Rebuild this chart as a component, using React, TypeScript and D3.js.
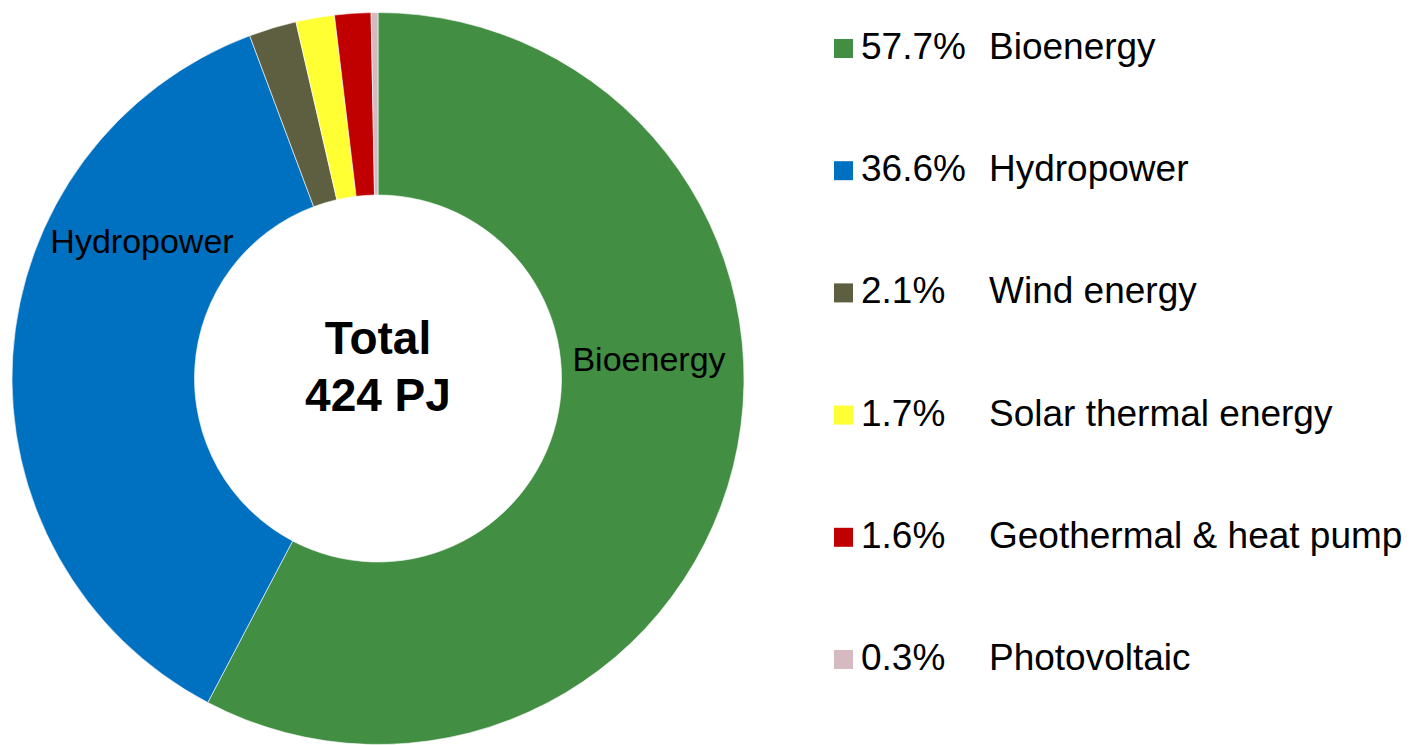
import React from "react";
import * as d3 from "d3";

const categories = ["Bioenergy", "Hydropower", "Wind energy", "Solar thermal energy", "Geothermal & heat pump", "Photovoltaic"];
const shares = [57.7, 36.6, 2.1, 1.7, 1.6, 0.3];
const shareLabels = ["57.7%", "36.6%", "2.1%", "1.7%", "1.6%", "0.3%"];
const colors = ["#428E43", "#0070C0", "#5E5E40", "#FFFF33", "#C00000", "#D5BAC1"];
const sliceLabels = ["Bioenergy", "Hydropower", "", "", "", ""];
const centerLines = ["Total", "424 PJ"];

const W = 1415;
const H = 745;
const cx = 378;
const cy = 378.5;
const outerR = 366;
const innerR = 183.5;
const font = "'Liberation Sans', Arial, sans-serif";

// label positions (anchor), in pixels of the chart
const labelPos: Record<string, [number, number]> = {
  Bioenergy: [649, 371],
  Hydropower: [142, 253],
};

export default function App() {
  const data = categories.map((c, i) => ({ name: c, value: shares[i], color: colors[i], label: sliceLabels[i], pct: shareLabels[i] }));
  const pie = d3.pie<any>().value((d) => d.value).sort(null);
  const arcs = pie(data);
  const arc = d3.arc<any>().innerRadius(innerR).outerRadius(outerR);
  const legendY = d3.scaleLinear().domain([0, categories.length - 1]).range([59, 670]);

  return (
    <svg width={W} height={H} style={{ position: "absolute", left: 0, top: 0, background: "#fff" }} fontFamily={font}>
      <g transform={`translate(${cx},${cy})`}>
        {arcs.map((a, i) => (
          <path key={i} d={arc(a) as string} fill={a.data.color} stroke="#ffffff" strokeWidth={0.6} />
        ))}
      </g>
      {data.filter((d) => d.label).map((d) => (
        <text key={d.name} x={labelPos[d.label][0]} y={labelPos[d.label][1]} textAnchor="middle" fontSize={34} fill="#000">
          {d.label}
        </text>
      ))}
      <text x={cx} y={354} textAnchor="middle" fontSize={46} fontWeight="bold" fill="#000">{centerLines[0]}</text>
      <text x={cx} y={411} textAnchor="middle" fontSize={46} fontWeight="bold" fill="#000">{centerLines[1]}</text>
      {data.map((d, i) => {
        const y = legendY(i);
        return (
          <g key={d.name}>
            <rect x={834} y={y - 20} width={19} height={19} fill={d.color} />
            <text x={861} y={y} fontSize={37} fill="#000">{d.pct}</text>
            <text x={989} y={y} fontSize={37} fill="#000">{d.name}</text>
          </g>
        );
      })}
    </svg>
  );
}
